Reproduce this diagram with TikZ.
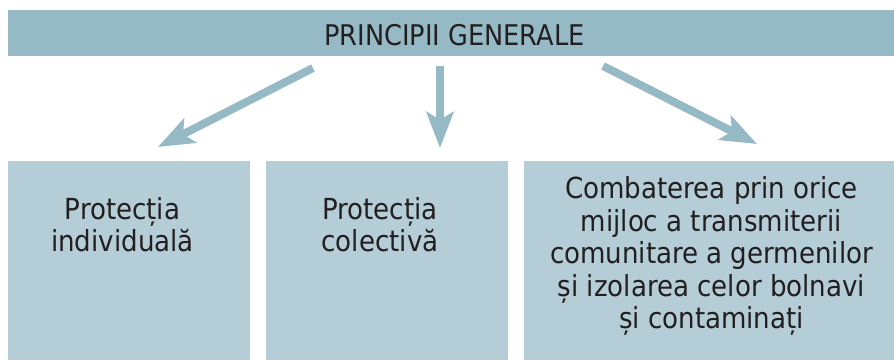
\documentclass[tikz,border=0pt]{standalone}
\usepackage{fontspec}
\setmainfont{DejaVu Sans Condensed}
\usetikzlibrary{arrows.meta}
\definecolor{barcol}{HTML}{96BAC5}
\definecolor{boxcol}{HTML}{B4CDD6}
\definecolor{txtcol}{HTML}{231F20}
\tikzset{
  barbox/.style={fill=barcol, draw=none, inner sep=0pt, minimum width=886pt, minimum height=46pt},
  lightbox/.style={fill=boxcol, draw=none, inner sep=0pt, minimum height=199pt},
  boxtext/.style={text=txtcol, align=center, inner sep=0pt, font=\fontsize{29pt}{32.5pt}\selectfont},
  titletext/.style={text=txtcol, inner sep=0pt, font=\fontsize{28.5pt}{34pt}\selectfont},
  bigarrow/.style={draw=barcol, line width=8pt, -{Stealth[length=36pt, width=27pt, inset=8pt]}}
}
\begin{document}
\begin{tikzpicture}[x=1pt,y=-1pt]
\useasboundingbox (0,0) rectangle (894,360);
\node[barbox] (top) at (451,33) {};
\node[titletext, anchor=base] (title) at (454.5,45) {PRINCIPII GENERALE};
\node[lightbox, minimum width=242pt] (b1) at (129,260.5) {};
\node[lightbox, minimum width=242pt] (b2) at (387,260.5) {};
\node[lightbox, minimum width=370pt] (b3) at (709,260.5) {};
\node[boxtext, anchor=north] (t1) at (122.5,197) {Protecția\\individuală};
\node[boxtext, anchor=north] (t2) at (380,197) {Protecția\\colectivă};
\node[boxtext, anchor=north] (t3) at (711.5,176.5) {Combaterea prin orice\\mijloc a transmiterii\\comunitare a germenilor\\și izolarea celor bolnavi\\și contaminați};
\coordinate (a1s) at (313,68);
\coordinate (a1e) at (158,147);
\coordinate (a2s) at (440,66);
\coordinate (a2e) at (440,148);
\coordinate (a3s) at (603,66);
\coordinate (a3e) at (757,144);
\draw[bigarrow] (a1s) -- (a1e);
\draw[bigarrow] (a2s) -- (a2e);
\draw[bigarrow] (a3s) -- (a3e);
\end{tikzpicture}
\end{document}
